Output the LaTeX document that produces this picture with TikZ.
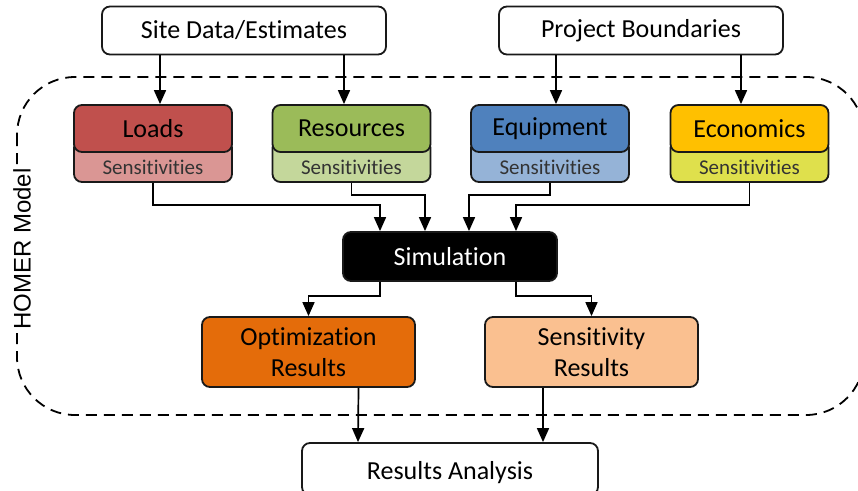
\documentclass[tikz,border=0pt]{standalone}
\usepackage{fontspec}
\setmainfont[Ligatures=NoCommon]{Carlito}
\newfontfamily\arialfont{Liberation Sans}
\usetikzlibrary{arrows.meta,calc}
\definecolor{loadsD}{HTML}{C0504D}
\definecolor{loadsL}{HTML}{DA9694}
\definecolor{resD}{HTML}{9BBB59}
\definecolor{resL}{HTML}{C4D79B}
\definecolor{equD}{HTML}{4F81BD}
\definecolor{equL}{HTML}{95B3D7}
\definecolor{ecoD}{HTML}{FFC000}
\definecolor{ecoL}{HTML}{DFE04C}
\definecolor{optC}{HTML}{E46C0A}
\definecolor{senC}{HTML}{FAC090}
\tikzset{
  x=1pt, y=-1pt,
  box/.style={draw=black!90, line width=1.8pt, rounded corners=8pt, align=center, inner sep=0pt, font=\fontsize{26}{30}\selectfont},
  hdr/.style={box, minimum width=158pt, minimum height=47pt, font=\fontsize{26}{30}\selectfont},
  sens/.style={box, minimum width=158pt, minimum height=42pt, font=\fontsize{21}{24}\selectfont, text=black!80, text height=26pt, text depth=0pt},
  arr/.style={line width=1.7pt, -{Triangle[length=14pt,width=12pt]}},
}
\begin{document}
\begin{tikzpicture}
\useasboundingbox (0,0) rectangle (858,490);
% dashed model frame
\draw[line width=1.8pt, dash pattern=on 11pt off 7pt, rounded corners=58pt] (17,77) rectangle (864,415);
\node[fill=white, rotate=90, inner sep=3pt, font=\arialfont\fontsize{24}{27}\selectfont] (homer) at (22,249) {HOMER Model};
% top boxes
\node[box, minimum width=284pt, minimum height=48pt] (site) at (244,30.5) {Site Data/Estimates};
\node[box, minimum width=284pt, minimum height=48pt] (proj) at (641,30.5) {Project Boundaries};
% input boxes
\node[sens, fill=loadsL] (loadsS) at (153,161) {Sensitivities};
\node[hdr, fill=loadsD] (loads) at (153,128.5) {Loads};
\node[sens, fill=resL] (resS) at (351.5,161) {Sensitivities};
\node[hdr, fill=resD] (res) at (351.5,128.5) {Resources};
\node[sens, fill=equL] (equS) at (550,161) {Sensitivities};
\node[hdr, fill=equD] (equ) at (550,128.5) {Equipment};
\node[sens, fill=ecoL] (ecoS) at (749.5,161) {Sensitivities};
\node[hdr, fill=ecoD] (eco) at (749.5,128.5) {Economics};
% simulation
\node[box, fill=black, text=white, minimum width=214pt, minimum height=49pt] (sim) at (450,256.5) {Simulation};
% results
\node[box, fill=optC, minimum width=213pt, minimum height=70pt] (opt) at (308.5,352) {Optimization\\[1pt]Results};
\node[box, fill=senC, minimum width=213pt, minimum height=70pt] (senr) at (591.5,352) {Sensitivity\\[1pt]Results};
\node[box, minimum width=296pt, minimum height=52pt, text height=26pt, text depth=6pt] (ana) at (450,469) {Results Analysis};
% arrows from top
\draw[arr] (160,0 |- site.south) -- (160,0 |- loads.north);
\draw[arr] (344,0 |- site.south) -- (344,0 |- res.north);
\draw[arr] (556,0 |- proj.south) -- (556,0 |- equ.north);
\draw[arr] (741,0 |- proj.south) -- (741,0 |- eco.north);
% to simulation
\draw[arr] (loadsS.south) |- ($(sim.north)+(-70,-26)$) -- ([xshift=-70pt]sim.north);
\draw[arr] (resS.south) |- ($(sim.north)+(-25,-36)$) -- ([xshift=-25pt]sim.north);
\draw[arr] (equS.south) |- ($(sim.north)+(19,-36)$) -- ([xshift=19pt]sim.north);
\draw[arr] (ecoS.south) |- ($(sim.north)+(66,-26)$) -- ([xshift=66pt]sim.north);
% from simulation
\draw[arr] ([xshift=-70pt]sim.south) |- (opt.north |- 0,296) -- (opt.north);
\draw[arr] ([xshift=66pt]sim.south) |- (senr.north |- 0,296) -- (senr.north);
% to analysis
\draw[arr] ([xshift=50pt]opt.south) -- ([xshift=-92pt]ana.north);
\draw[arr] ([xshift=-48.5pt]senr.south) -- ([xshift=93pt]ana.north);
\end{tikzpicture}
\end{document}
